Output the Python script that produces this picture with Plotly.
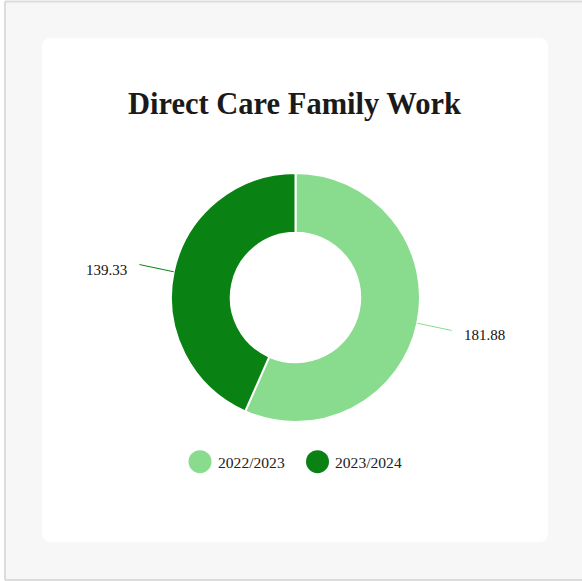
import math
import plotly.graph_objects as go

# Data
periods = ["2022/2023", "2023/2024"]
hours = [181.88, 139.33]
colors = ["#89dc8d", "#0a8213"]
title_text = "Direct Care Family Work"

W, H = 582, 581
FONT = "Liberation Serif, Times New Roman, serif"

# pixel -> paper helpers (margins are zero, so paper == page)
def fx(x):
    return x / W

def fy(y):
    return 1 - y / H

# donut geometry (pixels)
cx, cy, R = 295.5, 297.5, 124.5
hole = 0.52

fig = go.Figure()
fig.add_trace(go.Pie(
    labels=periods,
    values=hours,
    hole=hole,
    sort=False,
    direction="clockwise",
    rotation=0,
    textinfo="none",
    hoverinfo="label+value",
    marker=dict(colors=colors, line=dict(color="white", width=2)),
    domain=dict(x=[fx(cx - R), fx(cx + R)], y=[fy(cy + R), fy(cy - R)]),
    showlegend=False,
))

shapes = []
annotations = []

# page frame (open on the right) and card
shapes.append(dict(type="rect", xref="paper", yref="paper",
                   x0=fx(5), x1=fx(W + 40), y0=fy(580), y1=fy(1.5),
                   line=dict(width=0), fillcolor="#f7f7f7", layer="below"))
for (a, b, c_, d) in [(5, 1.5, W + 40, 1.5), (5, 1.5, 5, 580), (5, 580, W + 40, 580)]:
    shapes.append(dict(type="line", xref="paper", yref="paper",
                       x0=fx(a), y0=fy(b), x1=fx(c_), y1=fy(d),
                       line=dict(color="#dcdcdc", width=2), layer="below"))
L, T, Rr, B, rad = 42, 38, 548, 542, 9
path = (f"M {fx(L + rad)} {fy(T)} L {fx(Rr - rad)} {fy(T)} "
        f"Q {fx(Rr)} {fy(T)} {fx(Rr)} {fy(T + rad)} "
        f"L {fx(Rr)} {fy(B - rad)} Q {fx(Rr)} {fy(B)} {fx(Rr - rad)} {fy(B)} "
        f"L {fx(L + rad)} {fy(B)} Q {fx(L)} {fy(B)} {fx(L)} {fy(B - rad)} "
        f"L {fx(L)} {fy(T + rad)} Q {fx(L)} {fy(T)} {fx(L + rad)} {fy(T)} Z")
shapes.append(dict(type="path", xref="paper", yref="paper", path=path,
                   line=dict(width=0), fillcolor="white", layer="below"))

# outside value labels with leader lines along each slice's mid angle
total = sum(hours)
start = 0.0
for v, c in zip(hours, colors):
    span = 360.0 * v / total
    mid = math.radians(start + span / 2)
    start += span
    sx, sy = math.sin(mid), -math.cos(mid)
    x0, y0 = cx + R * sx, cy + R * sy
    x1, y1 = cx + (R + 35) * sx, cy + (R + 35) * sy
    shapes.append(dict(type="line", xref="paper", yref="paper",
                       x0=fx(x0), y0=fy(y0), x1=fx(x1), y1=fy(y1),
                       line=dict(color=c, width=1)))
    right = sx >= 0
    annotations.append(dict(
        xref="paper", yref="paper",
        x=fx(x1 + (10 if right else -10)), y=fy(y1 + 5),
        xanchor="left" if right else "right", yanchor="middle",
        text=f"{v:.2f}", showarrow=False,
        font=dict(family=FONT, size=15, color="#111")))

# legend drawn as circles + labels
legend_items = [(200, 216), (317.5, 333)]
for (mx, tx), lab, c in zip(legend_items, periods, colors):
    r = 11.5
    ly = 461.7
    shapes.append(dict(type="circle", xref="paper", yref="paper",
                       x0=fx(mx - r), x1=fx(mx + r), y0=fy(ly + r), y1=fy(ly - r),
                       line=dict(width=0), fillcolor=c))
    annotations.append(dict(
        xref="paper", yref="paper", x=fx(tx), y=fy(ly + 1),
        xanchor="left", yanchor="middle", text=lab, showarrow=False,
        font=dict(family=FONT, size=15.6, color="#222")))

# title
annotations.append(dict(
    xref="paper", yref="paper", x=fx(294), y=fy(104),
    xanchor="center", yanchor="middle",
    text=f"<b>{title_text}</b>", showarrow=False,
    font=dict(family=FONT, size=30.5, color="#1a1a1a")))

fig.update_layout(
    width=W, height=H,
    margin=dict(l=0, r=0, t=0, b=0),
    paper_bgcolor="white",
    plot_bgcolor="white",
    shapes=shapes,
    annotations=annotations,
    showlegend=False,
)

fig.write_html("out.html")
